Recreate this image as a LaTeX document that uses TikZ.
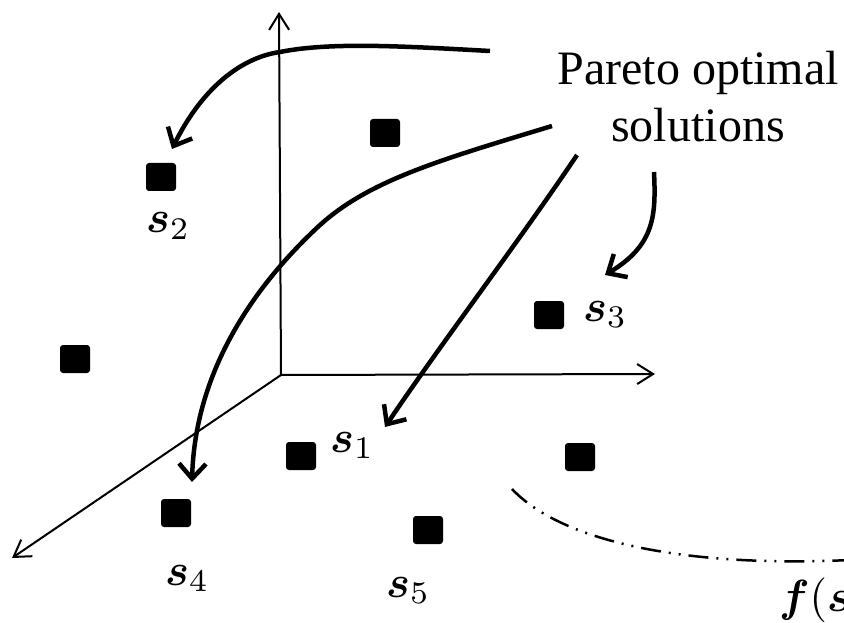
\documentclass[tikz,border=0pt]{standalone}
\usepackage{amsmath}
\usepackage{fontspec}
\setmainfont{Liberation Serif}
\newfontfamily\tnr{Liberation Serif}
\usetikzlibrary{arrows.meta}
\newcommand{\mylabmath}[1]{\scalebox{4.5}{$#1$}}
\tikzset{
  sol/.style={fill=black, draw=none, rounded corners=3pt, minimum width=30pt, minimum height=28pt, inner sep=0pt},
  lab/.style={inner sep=0pt, anchor=base west},
  axis/.style={line width=2pt, -{Straight Barb[length=16pt,width=20pt]}},
  callout/.style={line width=4.5pt, -{Straight Barb[length=15pt,width=27pt]}},
  frontline/.style={line width=2.5pt, dash pattern=on 20pt off 8pt on 2pt off 8pt on 2pt off 8pt}
}
\begin{document}
\begin{tikzpicture}[x=1pt,y=-1pt]
\useasboundingbox (0,0) rectangle (844,623);
% axes
\coordinate (O) at (281,375);
\coordinate (ztip) at (279,12);
\coordinate (xtip) at (655,374);
\coordinate (ytip) at (12,558);
\draw[axis] (O) -- (ztip);
\draw[axis] (O) -- (xtip);
\draw[axis] (O) -- (ytip);
% solutions
\node[sol] (s2) at (161,177) {};
\node[sol] (q6) at (385,133) {};
\node[sol] (s3) at (549,315) {};
\node[sol] (q7) at (75,359) {};
\node[sol] (s1) at (301,456) {};
\node[sol] (s4) at (176,513) {};
\node[sol] (s5) at (428,530) {};
\node[sol] (q8) at (580,457) {};
% labels
\node[lab] (l2) at (146,233) {\mylabmath{\boldsymbol{s}_2}};
\node[lab] (l3) at (583,321) {\mylabmath{\boldsymbol{s}_3}};
\node[lab] (l1) at (330,452) {\mylabmath{\boldsymbol{s}_1}};
\node[lab] (l4) at (165,585) {\mylabmath{\boldsymbol{s}_4}};
\node[lab] (l5) at (386,597) {\mylabmath{\boldsymbol{s}_5}};
\node[lab] (lf) at (779,611) {\mylabmath{\boldsymbol{f}(\boldsymbol{s})}};
\node[font=\tnr\fontsize{48}{57}\selectfont, align=center, anchor=base, inner sep=0pt] (po) at (698,142) {Pareto optimal\\solutions};
% callout arrows
\coordinate (a2s) at (490,51);
\coordinate (a2e) at (172,149);
\coordinate (a4s) at (552,126);
\coordinate (a4e) at (192,482);
\coordinate (a1s) at (577,155);
\coordinate (a1e) at (385,427);
\coordinate (a3s) at (654,172);
\coordinate (a3e) at (605,275);
\draw[callout] (a2s) .. controls (400,46) and (330,42) .. (280,52) .. controls (238,58) and (200,92) .. (a2e);
\draw[callout] (a4s) .. controls (440,160) and (370,180) .. (320,225) .. controls (255,285) and (195,370) .. (a4e);
\draw[callout] (a1s) .. controls (520,240) and (440,345) .. (a1e);
\draw[callout] (a3s) .. controls (656,215) and (655,245) .. (a3e);
% front
\coordinate (fs) at (512,489);
\coordinate (fe) at (850,560);
\draw[frontline] (fs) .. controls (560,540) and (680,568) .. (fe);
\end{tikzpicture}
\end{document}
